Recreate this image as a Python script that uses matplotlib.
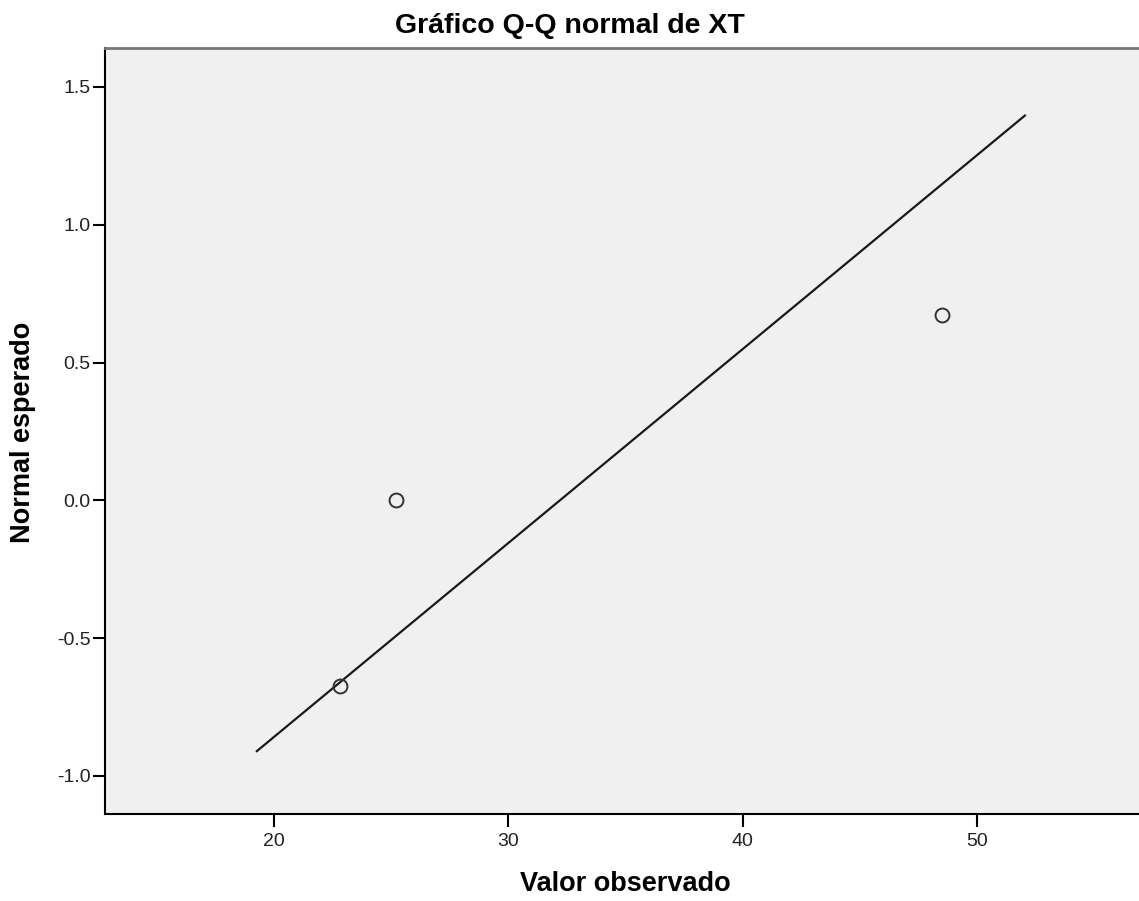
import matplotlib.pyplot as plt

observado = [22.8, 25.2, 48.5]
esperado = [-0.674, 0.0, 0.674]

# recta de referencia
recta_x = [19.27, 52.05]
recta_y = [-0.91, 1.396]

xticks = [20, 30, 40, 50]
yticks = [-1.0, -0.5, 0.0, 0.5, 1.0, 1.5]

plt.rcParams['font.family'] = ['Liberation Sans', 'DejaVu Sans']

fig = plt.figure(figsize=(11.39, 9.01), dpi=100)
ax = fig.add_axes([0.0922, 0.0966, 0.9078, 0.8501])
ax.set_facecolor("#f0f0f0")

ax.plot(recta_x, recta_y, color="#1a1a1a", linewidth=1.6)
ax.plot(observado, esperado, linestyle="none", marker="o", markersize=10,
        markerfacecolor="none", markeredgecolor="#333333", markeredgewidth=1.4)

ax.set_xlim(12.79, 56.92)
ax.set_ylim(-1.138, 1.641)
ax.set_xticks(xticks)
ax.set_xticklabels([str(t) for t in xticks])
ax.set_yticks(yticks)
ax.set_yticklabels([f"{t:.1f}" for t in yticks])
ax.tick_params(axis="both", labelsize=14, color="black", width=1.5,
               labelcolor="#222222")
ax.tick_params(axis="x", length=9.4, pad=4)
ax.tick_params(axis="y", length=8.6, pad=2)

for s in ["left", "bottom"]:
    ax.spines[s].set_color("black")
    ax.spines[s].set_linewidth(1.5)
ax.spines["top"].set_color("#777777")
ax.spines["top"].set_linewidth(2)
ax.spines["right"].set_visible(False)

# título y etiquetas de ejes
fig.text(0.5, 1 - 33 / 901, "Gráfico Q-Q normal de XT", ha="center",
         va="baseline", fontsize=20.5, fontweight="bold")
fig.text(625 / 1139, 1 - 891 / 901, "Valor observado", ha="center",
         va="baseline", fontsize=19.5, fontweight="bold")
fig.text(23 / 1139, 1 - 432 / 901, "Normal esperado", ha="center",
         va="center", rotation=90, fontsize=19.5, fontweight="bold")

fig.savefig("out.png", dpi=100)
